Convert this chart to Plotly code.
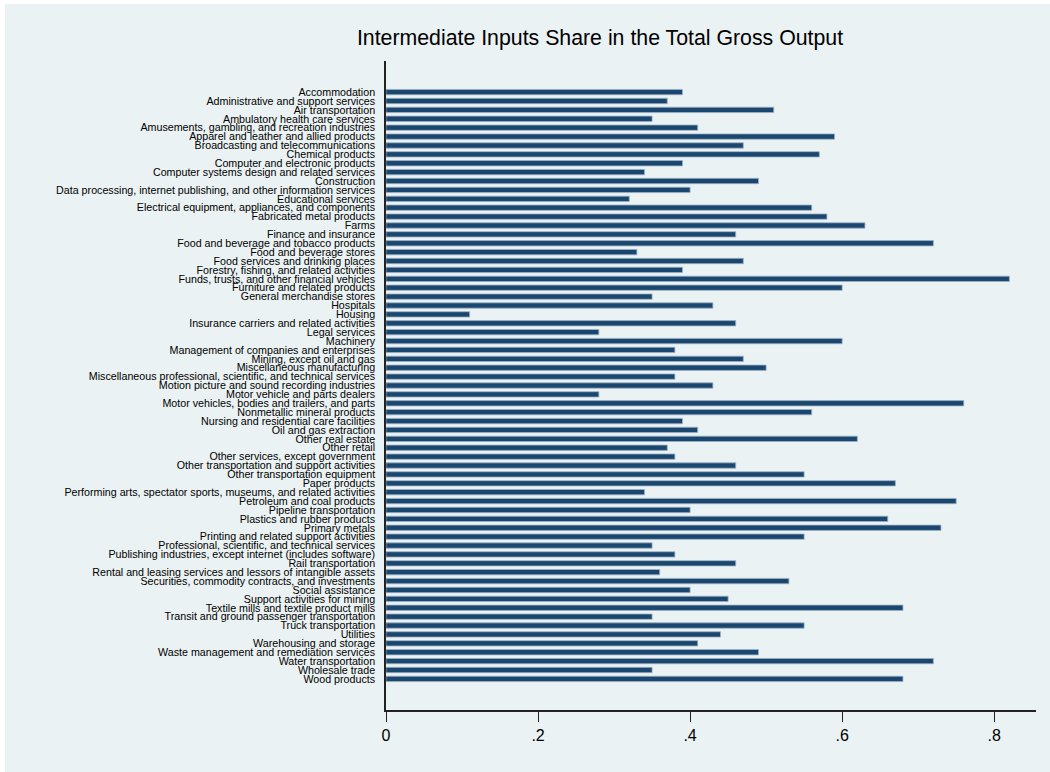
import plotly.graph_objects as go

# Industries (top to bottom) and their intermediate inputs share of gross output
industries = [
    "Accommodation",
    "Administrative and support services",
    "Air transportation",
    "Ambulatory health care services",
    "Amusements, gambling, and recreation industries",
    "Apparel and leather and allied products",
    "Broadcasting and telecommunications",
    "Chemical products",
    "Computer and electronic products",
    "Computer systems design and related services",
    "Construction",
    "Data processing, internet publishing, and other information services",
    "Educational services",
    "Electrical equipment, appliances, and components",
    "Fabricated metal products",
    "Farms",
    "Finance and insurance",
    "Food and beverage and tobacco products",
    "Food and beverage stores",
    "Food services and drinking places",
    "Forestry, fishing, and related activities",
    "Funds, trusts, and other financial vehicles",
    "Furniture and related products",
    "General merchandise stores",
    "Hospitals",
    "Housing",
    "Insurance carriers and related activities",
    "Legal services",
    "Machinery",
    "Management of companies and enterprises",
    "Mining, except oil and gas",
    "Miscellaneous manufacturing",
    "Miscellaneous professional, scientific, and technical services",
    "Motion picture and sound recording industries",
    "Motor vehicle and parts dealers",
    "Motor vehicles, bodies and trailers, and parts",
    "Nonmetallic mineral products",
    "Nursing and residential care facilities",
    "Oil and gas extraction",
    "Other real estate",
    "Other retail",
    "Other services, except government",
    "Other transportation and support activities",
    "Other transportation equipment",
    "Paper products",
    "Performing arts, spectator sports, museums, and related activities",
    "Petroleum and coal products",
    "Pipeline transportation",
    "Plastics and rubber products",
    "Primary metals",
    "Printing and related support activities",
    "Professional, scientific, and technical services",
    "Publishing industries, except internet (includes software)",
    "Rail transportation",
    "Rental and leasing services and lessors of intangible assets",
    "Securities, commodity contracts, and investments",
    "Social assistance",
    "Support activities for mining",
    "Textile mills and textile product mills",
    "Transit and ground passenger transportation",
    "Truck transportation",
    "Utilities",
    "Warehousing and storage",
    "Waste management and remediation services",
    "Water transportation",
    "Wholesale trade",
    "Wood products",
]

shares = [
    0.39, 0.37, 0.51, 0.35, 0.41, 0.59, 0.47, 0.57, 0.39, 0.34,
    0.49, 0.40, 0.32, 0.56, 0.58, 0.63, 0.46, 0.72, 0.33, 0.47,
    0.39, 0.82, 0.60, 0.35, 0.43, 0.11, 0.46, 0.28, 0.60, 0.38,
    0.47, 0.50, 0.38, 0.43, 0.28, 0.76, 0.56, 0.39, 0.41, 0.62,
    0.37, 0.38, 0.46, 0.55, 0.67, 0.34, 0.75, 0.40, 0.66, 0.73,
    0.55, 0.35, 0.38, 0.46, 0.36, 0.53, 0.40, 0.45, 0.68, 0.35,
    0.55, 0.44, 0.41, 0.49, 0.72, 0.35, 0.68,
]

x_tick_vals = [0, 0.2, 0.4, 0.6, 0.8]
x_tick_text = ["0", ".2", ".4", ".6", ".8"]

BG = "#eaf2f3"
NAVY = "#1a476f"
FONT = "Liberation Sans, Arial, sans-serif"

W, H = 1050, 772
left, right, top, bottom = 386, 14, 61, 62
pw, ph = W - left - right, H - top - bottom

# one numeric slot per industry so every label is drawn
positions = list(range(len(industries)))
n = len(industries)

fig = go.Figure(
    go.Bar(
        x=shares,
        y=positions,
        orientation="h",
        width=0.6,
        marker=dict(color=NAVY, line=dict(color="#9fb1c4", width=0.8)),
        customdata=industries,
        hovertemplate="%{customdata}: %{x}<extra></extra>",
    )
)

fig.update_layout(
    width=W,
    height=H,
    margin=dict(l=left, r=right, t=top, b=bottom, pad=0),
    paper_bgcolor="white",
    plot_bgcolor="white",
    showlegend=False,
    title=dict(
        text="Intermediate Inputs Share in the Total Gross Output",
        x=600 / W,
        xanchor="center",
        y=1 - 38 / H,
        yanchor="middle",
        font=dict(family=FONT, size=21.3, color="black"),
    ),
    xaxis=dict(
        range=[0, 0.855],
        tickmode="array",
        tickvals=x_tick_vals,
        ticktext=x_tick_text,
        ticks="outside",
        ticklen=10,
        tickwidth=1.3,
        tickcolor="#222",
        showline=True,
        linecolor="#222",
        linewidth=1.5,
        showgrid=True,
        gridcolor=BG,
        gridwidth=1.5,
        zeroline=False,
        tickfont=dict(family=FONT, size=16, color="black"),
    ),
    yaxis=dict(
        range=[n - 1 + 3.5, -3.5],
        tickmode="array",
        tickvals=positions,
        ticktext=industries,
        ticks="outside",
        ticklen=7,
        tickcolor="rgba(0,0,0,0)",
        showline=True,
        linecolor="#222",
        linewidth=1.5,
        showgrid=False,
        zeroline=False,
        tickfont=dict(family=FONT, size=10.7, color="black"),
    ),
    shapes=[
        # light outer graph region, with a thin white edge on the top and left
        dict(
            type="rect", xref="paper", yref="paper",
            x0=-(left - 5) / pw, x1=1 + (right + 10) / pw,
            y0=-(bottom + 10) / ph, y1=1 + (top - 4) / ph,
            fillcolor=BG, line=dict(width=0), layer="below",
        ),
    ],
)

fig.write_html("out.html")
